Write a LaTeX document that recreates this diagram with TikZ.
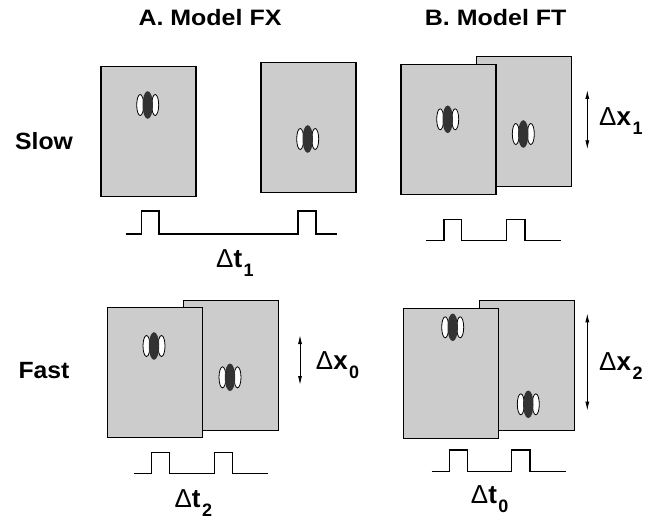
\documentclass[tikz,border=0pt]{standalone}
\usepackage{fontspec}
\setmainfont{Liberation Sans}
\usetikzlibrary{arrows.meta}
\definecolor{stimgray}{RGB}{204,204,204}
\definecolor{blobgray}{RGB}{51,51,51}
\newcommand{\dlab}[2]{Δ\textbf{#1}\kern1.5pt\raisebox{-9pt}{\fontsize{18}{18}\selectfont\bfseries #2}}
\tikzset{
  stim/.style={draw,fill=stimgray,line width=1.2pt,minimum width=95pt,minimum height=130pt,inner sep=0pt},
  pulse/.style={line width=1.3pt},
  dxarrow/.style={line width=0.9pt,{Latex[length=9pt,width=4pt]}-{Latex[length=9pt,width=4pt]}},
  txt/.style={inner sep=0pt,anchor=base west,xscale=1.12,transform shape,font=\bfseries\fontsize{22.3}{22.3}\selectfont},
  rowtxt/.style={txt,xscale=0.94,font=\bfseries\fontsize{23.5}{23.5}\selectfont},
  dtxt/.style={inner sep=0pt,anchor=base west,font=\fontsize{26}{26}\selectfont},
  pics/gabor/.style={code={
      \draw[fill=white,line width=0.8pt] (-7.5,0) ellipse [x radius=3.5,y radius=10.5];
      \draw[fill=white,line width=0.8pt] (7.5,0) ellipse [x radius=3.5,y radius=10.5];
      \fill[blobgray] (0,0) ellipse [x radius=5.2,y radius=13.8];}}
}
\begin{document}
\begin{tikzpicture}[x=1pt,y=-1pt]
      \useasboundingbox (0,0) rectangle (666,521);
      \node[txt] (titleA) at (138.3,26) {A. Model FX};
      \node[txt] (titleB) at (424.7,26) {B. Model FT};
      \node[rowtxt] (slow) at (15,149.3) {Slow};
      \node[rowtxt] (fast) at (18.3,378) {Fast};
      % A, slow
      \node[stim] (fxslow1) at (148.5,131.5) {};
      \node[stim] (fxslow2) at (308.5,127.5) {};
      \pic at (147.7,105) {gabor};
      \pic at (307.7,139) {gabor};
      \draw[pulse] (125.7,234) -| (141.7,211) -| (159,234) -| (298,211) -| (316,234) -- (336.7,234);
      \node[dtxt] (dt1) at (216,267.3) {\dlab{t}{1}};
      % B, slow
      \node[stim] (ftslow2) at (524.2,121.3) {};
      \node[stim] (ftslow1) at (448.5,129.2) {};
      \pic at (447.7,119.3) {gabor};
      \pic at (523.3,134) {gabor};
      \draw[pulse] (426,240.7) -| (444,219.3) -| (461.7,240.7) -| (506.7,219.3) -| (525,240.7) -- (560.7,240.7);
      \coordinate (dx1top) at (587.3,90);
      \coordinate (dx1bot) at (587.3,149.3);
      \draw[dxarrow] (dx1top) -- (dx1bot);
      \node[dtxt] (dx1) at (599,125.7) {\dlab{x}{1}};
      % A, fast
      \node[stim] (fxfast2) at (231.2,365.2) {};
      \node[stim] (fxfast1) at (154.7,372.5) {};
      \pic at (154,346) {gabor};
      \pic at (230,377.3) {gabor};
      \draw[pulse] (134,473.3) -| (151.7,452.3) -| (169.3,473.3) -| (214.7,452.3) -| (232.7,473.3) -- (268.3,473.3);
      \coordinate (dx0top) at (300,335);
      \coordinate (dx0bot) at (300,385);
      \draw[dxarrow] (dx0top) -- (dx0bot);
      \node[dtxt] (dx0) at (315.7,369) {\dlab{x}{0}};
      \node[dtxt] (dt2) at (174.3,507.3) {\dlab{t}{2}};
      % B, fast
      \node[stim] (ftfast2) at (527.2,365.7) {};
      \node[stim] (ftfast1) at (451.3,373.3) {};
      \pic at (452.7,327.3) {gabor};
      \pic at (528.3,404.3) {gabor};
      \draw[pulse] (431.7,471.7) -| (449.3,450) -| (467.3,471.7) -| (511.7,450) -| (530,471.7) -- (565.7,471.7);
      \coordinate (dx2top) at (587.3,313.3);
      \coordinate (dx2bot) at (587.3,410.7);
      \draw[dxarrow] (dx2top) -- (dx2bot);
      \node[dtxt] (dx2) at (599,370) {\dlab{x}{2}};
      \node[dtxt] (dt0) at (470.7,503.3) {\dlab{t}{0}};
    \end{tikzpicture}
\end{document}
